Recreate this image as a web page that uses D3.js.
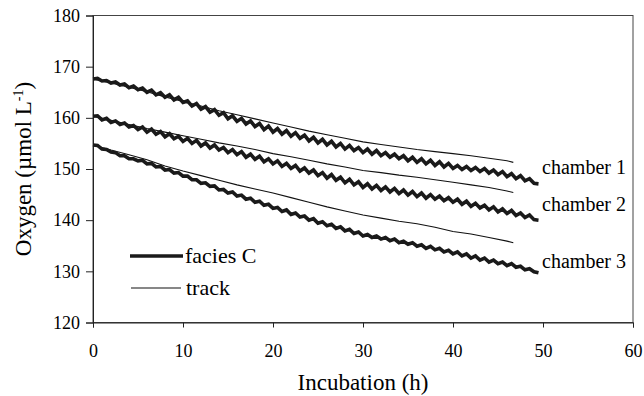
<!DOCTYPE html>
<html>
<head>
<meta charset="utf-8">
<script src="https://cdn.jsdelivr.net/npm/d3@7"></script>
<style>
  body { margin: 0; background: #fff; }
  svg { font-family: "Liberation Serif", "Times New Roman", serif; }
</style>
</head>
<body>
<div id="chart"></div>
<script>
// sampling times (h) of the facies C records
var hoursC = [0,0.5,1,1.5,2,2.5,3,3.5,4,4.5,5,5.5,6,6.5,7,7.5,8,8.5,9,9.5,
  10,10.5,11,11.5,12,12.5,13,13.5,14,14.5,15,15.5,16,16.5,17,17.5,18,18.5,19,19.5,
  20,20.5,21,21.5,22,22.5,23,23.5,24,24.5,25,25.5,26,26.5,27,27.5,28,28.5,29,29.5,
  30,30.5,31,31.5,32,32.5,33,33.5,34,34.5,35,35.5,36,36.5,37,37.5,38,38.5,39,39.5,
  40,40.5,41,41.5,42,42.5,43,43.5,44,44.5,45,45.5,46,46.5,47,47.5,48,48.5,49,49.5];

var faciesC1 = [167.6,167.7,167.2,167.3,166.8,167.0,166.4,166.6,165.9,166.2,
  165.5,165.8,165.0,165.4,164.5,164.9,164.0,164.5,163.5,164.0,
  163.0,163.3,162.3,162.8,161.7,162.2,161.1,161.6,160.5,161.0,
  159.8,160.4,159.3,159.9,158.8,159.4,158.3,158.9,157.7,158.4,
  157.2,157.9,156.8,157.5,156.4,157.1,156.0,156.6,155.5,156.2,
  155.1,155.8,154.7,155.4,154.3,155.0,153.9,154.6,153.6,154.2,
  153.2,153.9,152.9,153.6,152.6,153.2,152.3,152.9,152.0,152.6,
  151.6,152.3,151.3,152.0,151.0,151.7,150.7,151.4,150.4,151.1,
  150.1,150.7,149.9,150.5,149.7,150.3,149.5,150.1,149.2,149.8,
  148.9,149.5,148.5,149.1,148.1,148.7,147.7,148.1,147.2,147.1];

var faciesC2 = [160.3,160.4,159.6,159.9,159.1,159.4,158.7,159.0,158.2,158.5,
  157.7,158.2,157.2,157.8,156.8,157.3,156.3,156.9,155.9,156.4,
  155.4,156.0,155.0,155.6,154.5,155.1,154.1,154.7,153.7,154.2,
  153.2,153.8,152.8,153.4,152.3,152.9,151.9,152.5,151.4,152.0,
  151.0,151.6,150.5,151.1,150.1,150.7,149.6,150.2,149.2,149.8,
  148.7,149.3,148.2,148.9,147.8,148.4,147.3,148.0,146.9,147.5,
  146.4,147.1,146.1,146.8,145.8,146.5,145.5,146.2,145.2,145.9,
  144.9,145.6,144.6,145.3,144.3,145.0,144.1,144.7,143.8,144.4,
  143.5,144.1,143.1,143.7,142.7,143.3,142.4,142.9,142.0,142.6,
  141.6,142.2,141.3,141.9,140.9,141.4,140.5,141.0,140.1,140.0];

var faciesC3 = [154.7,154.6,153.9,153.8,153.3,153.2,152.6,152.6,152.0,152.0,
  151.6,151.7,151.0,151.1,150.4,150.5,149.8,149.9,149.2,149.3,
  148.6,148.6,147.9,147.9,147.2,147.3,146.6,146.7,145.9,146.0,
  145.3,145.5,144.7,144.9,144.1,144.3,143.5,143.7,142.9,143.1,
  142.3,142.5,141.7,142.0,141.1,141.4,140.6,140.8,140.0,140.3,
  139.4,139.7,138.9,139.2,138.4,138.7,137.9,138.2,137.4,137.7,
  136.9,137.2,136.6,136.9,136.3,136.6,136.0,136.3,135.6,135.9,
  135.3,135.6,134.9,135.2,134.5,134.9,134.2,134.5,133.8,134.1,
  133.4,133.8,133.0,133.4,132.6,133.0,132.2,132.6,131.8,132.2,
  131.5,131.8,131.1,131.5,130.8,131.0,130.3,130.5,129.9,129.7];

// sampling times (h) of the track records
var hoursT = [0,2,4,6,8,10,12,14,16,18,20,22,24,26,28,30,32,34,36,38,40,42,44,46,46.7];
var track1 = [167.6,166.8,166.0,165.1,164.1,163.2,162.3,161.4,160.6,159.8,159.0,158.2,157.4,
  156.7,156.0,155.3,154.8,154.3,153.8,153.4,153.0,152.6,152.1,151.6,151.3];
var track2 = [160.3,159.5,158.7,157.9,157.2,156.5,155.8,155.1,154.5,153.8,153.0,152.4,151.7,
  151.0,150.4,149.7,149.3,148.8,148.4,147.9,147.4,146.9,146.4,145.7,145.4];
var track3 = [154.7,153.7,152.8,151.8,150.6,149.6,148.7,147.8,146.9,146.1,145.3,144.4,143.5,
  142.6,141.8,141.0,140.4,139.8,139.3,138.6,137.8,137.3,136.6,135.9,135.6];

var chamberNames = ["chamber 1", "chamber 2", "chamber 3"];
var chamberLabelAt = [[49.9, 149.0], [49.9, 141.8], [49.9, 130.7]];

var xTicks = [0, 10, 20, 30, 40, 50, 60];
var yTicks = [120, 130, 140, 150, 160, 170, 180];

var W = 644, H = 396;
var padL = 93, padR = 633, padT = 15.5, padB = 322.5;

var svg = d3.select("#chart").append("svg")
    .attr("width", W)
    .attr("height", H);

var xScale = d3.scaleLinear().domain([0, 60]).range([padL, padR]);
var yScale = d3.scaleLinear().domain([120, 180]).range([padB, padT]);

// frame
svg.append("rect")
    .attr("x", padL).attr("y", padT)
    .attr("width", padR - padL).attr("height", padB - padT)
    .attr("fill", "none").attr("stroke", "#444").attr("stroke-width", 1);

var xAxis = d3.axisBottom(xScale).tickValues(xTicks).tickSize(5).tickPadding(17);
var yAxis = d3.axisLeft(yScale).tickValues(yTicks).tickSize(7).tickPadding(6);

var gx = svg.append("g")
    .attr("transform", "translate(0," + padB + ")")
    .call(xAxis);
var gy = svg.append("g")
    .attr("transform", "translate(" + padL + ",0)")
    .call(yAxis);

[gx, gy].forEach(function (g) {
    g.select(".domain").attr("stroke", "#222");
    g.selectAll(".tick line").attr("stroke", "#222");
    g.selectAll(".tick text")
        .attr("fill", "#000")
        .attr("font-family", "Liberation Serif, serif")
        .attr("font-size", "18px");
});

var line = d3.line()
    .x(function (d) { return xScale(d[0]); })
    .y(function (d) { return yScale(d[1]); });

function pairs(xs, ys) {
    return xs.map(function (x, i) { return [x, ys[i]]; });
}

[track1, track2, track3].forEach(function (s) {
    svg.append("path")
        .datum(pairs(hoursT, s))
        .attr("d", line)
        .attr("fill", "none")
        .attr("stroke", "#111")
        .attr("stroke-width", 1.1);
});

[faciesC1, faciesC2, faciesC3].forEach(function (s) {
    svg.append("path")
        .datum(pairs(hoursC, s))
        .attr("d", line)
        .attr("fill", "none")
        .attr("stroke", "#1a1a1a")
        .attr("stroke-width", 3.6)
        .attr("stroke-linejoin", "miter");
});

// chamber labels
svg.selectAll("text.chamber")
    .data(chamberNames)
    .enter()
    .append("text")
    .attr("class", "chamber")
    .attr("x", function (d, i) { return xScale(chamberLabelAt[i][0]); })
    .attr("y", function (d, i) { return yScale(chamberLabelAt[i][1]); })
    .attr("font-size", "20px")
    .text(function (d) { return d; });

// legend
var legend = svg.append("g");
legend.append("line")
    .attr("x1", 130).attr("x2", 183).attr("y1", 256).attr("y2", 256)
    .attr("stroke", "#1a1a1a").attr("stroke-width", 3.6);
legend.append("text")
    .attr("x", 185).attr("y", 263).attr("font-size", "22px")
    .text("facies C");
legend.append("line")
    .attr("x1", 131).attr("x2", 181).attr("y1", 288).attr("y2", 288)
    .attr("stroke", "#111").attr("stroke-width", 1.1);
legend.append("text")
    .attr("x", 186).attr("y", 295).attr("font-size", "22px")
    .text("track");

// axis titles
svg.append("text")
    .attr("x", (padL + padR) / 2).attr("y", 390)
    .attr("text-anchor", "middle")
    .attr("font-size", "23px")
    .text("Incubation (h)");

var yTitle = svg.append("text")
    .attr("transform", "translate(31," + ((padT + padB) / 2) + ") rotate(-90)")
    .attr("text-anchor", "middle")
    .attr("font-size", "23px");
yTitle.append("tspan").text("Oxygen (\u00b5mol L");
yTitle.append("tspan").attr("dy", -8).attr("font-size", "14px").text("-1");
yTitle.append("tspan").attr("dy", 8).text(")");
</script>
</body>
</html>
